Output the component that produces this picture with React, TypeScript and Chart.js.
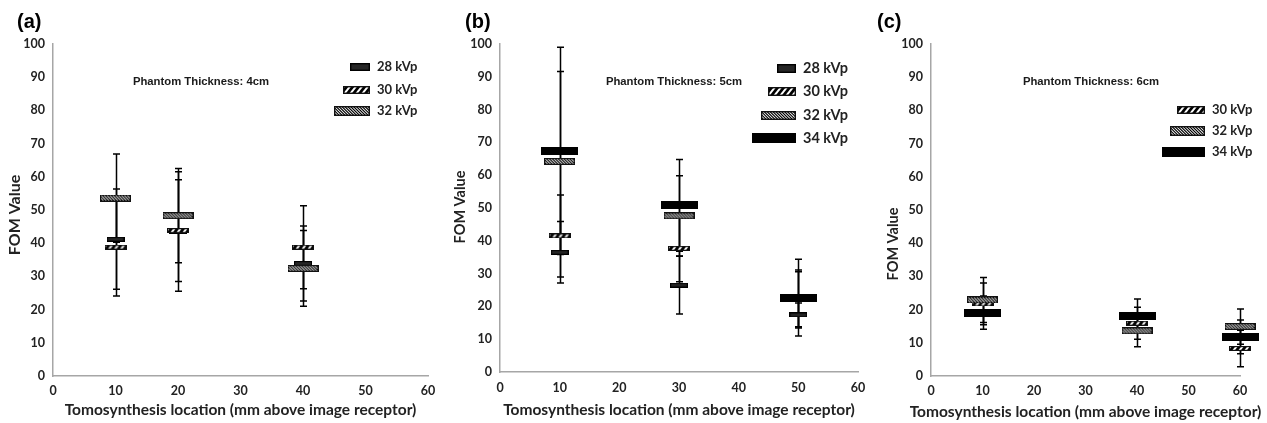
import React, { useEffect, useRef } from "react";
import { Chart, registerables } from "chart.js";

Chart.register(...registerables);

// ---------- DATA ----------
const xTicksMax = 60;
const yTicksMax = 100;

// Panel (a): Phantom 4 cm
const xA = [10, 20, 40];
const a28 = [41.2, 43.5, 33.9];
const a28Err = [15.1, 18, 11.3];
const a30 = [38.8, 43.8, 38.8];
const a30Err = [14.7, 15.3, 12.5];
const a32 = [53.6, 48.3, 32.4];
const a32Err = [13.3, 14.2, 11.4];

// Panel (b): Phantom 5 cm
const xB = [10, 30, 50];
const b28 = [36.5, 26.5, 17.4];
const b28Err = [9.4, 8.8, 3.6];
const b30 = [41.5, 37.7, 22];
const b30Err = [12.5, 10.2, 8.6];
const b32 = [64.2, 47.6, 22.4];
const b32Err = [27.4, 12.2, 8.7];
const b34 = [67.4, 50.8, 22.7];
const b34Err = [31.6, 14, 11.7];

// Panel (c): Phantom 6 cm
const xC = [10, 40, 60];
const c30 = [21.7, 15.9, 8.3];
const c30Err = [6.3, 4.8, 5.5];
const c32 = [22.9, 13.6, 14.9];
const c32Err = [6.8, 4.8, 5.3];
const c34 = [19.1, 18.2, 11.8];
const c34Err = [5, 5, 5.1];

const panelLabels = ["(a)", "(b)", "(c)"];
const thicknessLabels = ["Phantom Thickness: 4cm", "Phantom Thickness: 5cm", "Phantom Thickness: 6cm"];
const xTitle = "Tomosynthesis location (mm above image receptor)";
const yTitle = "FOM Value";

// ---------- STYLE HELPERS ----------
type Kind = "28" | "30" | "32" | "34";

const markerSize: Record<Kind, [number, number]> = {
  "28": [18, 5],
  "30": [22, 5],
  "32": [31, 7],
  "34": [37, 8],
};

function paint(kind: Kind, w: number, h: number, border: number): HTMLCanvasElement {
  const c = document.createElement("canvas");
  c.width = w;
  c.height = h;
  const g = c.getContext("2d")!;
  if (kind === "28") {
    g.fillStyle = "#262626";
    g.fillRect(0, 0, w, h);
    g.strokeStyle = "#000";
    g.lineWidth = border * 2;
    g.strokeRect(0, 0, w, h);
    return c;
  }
  if (kind === "34") {
    g.fillStyle = "#000";
    g.fillRect(0, 0, w, h);
    return c;
  }
  g.fillStyle = "#fff";
  g.fillRect(0, 0, w, h);
  g.save();
  g.beginPath();
  g.rect(0, 0, w, h);
  g.clip();
  g.strokeStyle = "#000";
  if (kind === "30") {
    g.lineWidth = 2.8;
    const s = 6;
    for (let x = -h; x < w + h; x += s) {
      g.beginPath();
      g.moveTo(x, h);
      g.lineTo(x + h * 0.8, 0);
      g.stroke();
    }
  } else {
    g.lineWidth = 1.1;
    const s = 2.9;
    g.beginPath();
    for (let x = -h; x < w + h; x += s) {
      g.moveTo(x, 0);
      g.lineTo(x + h, h);
    }
    g.stroke();
  }
  g.restore();
  g.strokeStyle = "#111";
  g.lineWidth = border * 2;
  g.strokeRect(0, 0, w, h);
  return c;
}

// ---------- PLUGINS ----------
const errorBars = {
  id: "errorBars",
  beforeDatasetsDraw(chart: any) {
    const ctx = chart.ctx;
    const xs = chart.scales.x;
    const ys = chart.scales.y;
    ctx.save();
    ctx.strokeStyle = "#000";
    ctx.lineWidth = 1.5;
    chart.data.datasets.forEach((ds: any) => {
      ds.data.forEach((p: any, i: number) => {
        const e = ds.errs[i];
        const px = Math.round(xs.getPixelForValue(p.x)) + 0.5;
        const top = ys.getPixelForValue(p.y + e);
        const bot = ys.getPixelForValue(p.y - e);
        ctx.beginPath();
        ctx.moveTo(px, top);
        ctx.lineTo(px, bot);
        ctx.moveTo(px - 3.5, top);
        ctx.lineTo(px + 3.5, top);
        ctx.moveTo(px - 3.5, bot);
        ctx.lineTo(px + 3.5, bot);
        ctx.stroke();
      });
    });
    ctx.restore();
  },
};

const annotations = {
  id: "annotations",
  afterDraw(chart: any) {
    const o = chart.options.plugins.annotations;
    const ctx = chart.ctx;
    const area = chart.chartArea;
    ctx.save();
    ctx.fillStyle = "#000";
    // panel label
    ctx.font = "bold 20px 'Liberation Sans', Arial, sans-serif";
    ctx.textAlign = "left";
    ctx.textBaseline = "middle";
    ctx.fillText(o.panel, o.panelX, 22);
    // thickness text
    ctx.font = "bold 11.3px 'Liberation Sans', Arial, sans-serif";
    ctx.textAlign = "center";
    ctx.fillStyle = "#1a1a1a";
    ctx.fillText(o.thickness, o.thicknessX, 82);
    // x title
    ctx.font = "bold 15.5px Lato, sans-serif";
    ctx.fillStyle = "#222";
    ctx.textAlign = "center";
    ctx.textBaseline = "middle";
    ctx.fillText(xTitle, (area.left + area.right) / 2, o.xTitleY);
    // y title
    ctx.save();
    ctx.translate(o.yTitleX, o.yTitleY);
    ctx.rotate(-Math.PI / 2);
    ctx.font = `bold ${o.yTitleFont}px Lato, sans-serif`;
    ctx.fillStyle = "#222";
    ctx.textAlign = "center";
    ctx.textBaseline = "middle";
    ctx.fillText(yTitle, 0, 0);
    ctx.restore();
    // legend
    const lg = o.legend;
    chart.data.datasets.forEach((ds: any, i: number) => {
      const [w, h] = lg.sizes[i];
      const img = paint(ds.kind, w, h, 1.4);
      const y = lg.ys[i];
      ctx.drawImage(img, lg.right - w, Math.round(y - h / 2));
      ctx.font = `bold ${lg.font}px Lato, sans-serif`;
      ctx.fillStyle = "#222";
      ctx.textAlign = "left";
      ctx.textBaseline = "middle";
      ctx.fillText(ds.label, lg.right + 7, y);
    });
    ctx.restore();
  },
};

// ---------- PANELS ----------
interface SeriesDef {
  kind: Kind;
  ys: number[];
  errs: number[];
}

interface PanelDef {
  left: number;
  width: number;
  xs: number[];
  series: SeriesDef[];
  yAxisW: number;
  xAxisH: number;
  padRight: number;
  xTickPad: number;
  xTitleY: number;
  panel: string;
  panelX: number;
  thickness: string;
  thicknessX: number;
  yTitleX: number;
  yTitleY: number;
  yTitleFont: number;
  legend: { right: number; ys: number[]; font: number; sizes: [number, number][] };
}

const panels: PanelDef[] = [
  {
    left: 0,
    width: 445,
    xs: xA,
    series: [
      { kind: "28", ys: a28, errs: a28Err },
      { kind: "30", ys: a30, errs: a30Err },
      { kind: "32", ys: a32, errs: a32Err },
    ],
    yAxisW: 53,
    xAxisH: 47,
    padRight: 17,
    xTickPad: 7,
    xTitleY: 410,
    panel: panelLabels[0],
    panelX: 17,
    thickness: thicknessLabels[0],
    thicknessX: 201,
    yTitleX: 15,
    yTitleY: 215,
    yTitleFont: 16,
    legend: { right: 370, ys: [67, 90, 111], font: 13, sizes: [[20, 8], [27, 8], [36, 10]] },
  },
  {
    left: 445,
    width: 430,
    xs: xB,
    series: [
      { kind: "28", ys: b28, errs: b28Err },
      { kind: "30", ys: b30, errs: b30Err },
      { kind: "32", ys: b32, errs: b32Err },
      { kind: "34", ys: b34, errs: b34Err },
    ],
    yAxisW: 55,
    xAxisH: 51,
    padRight: 17,
    xTickPad: 8,
    xTitleY: 410,
    panel: panelLabels[1],
    panelX: 20,
    thickness: thicknessLabels[1],
    thicknessX: 229,
    yTitleX: 15,
    yTitleY: 207,
    yTitleFont: 14.5,
    legend: { right: 351, ys: [68, 91, 115, 138], font: 14.5, sizes: [[19, 9], [28, 9], [35, 9], [44, 10]] },
  },
  {
    left: 875,
    width: 392,
    xs: xC,
    series: [
      { kind: "30", ys: c30, errs: c30Err },
      { kind: "32", ys: c32, errs: c32Err },
      { kind: "34", ys: c34, errs: c34Err },
    ],
    yAxisW: 56,
    xAxisH: 47,
    padRight: 27,
    xTickPad: 7,
    xTitleY: 412,
    panel: panelLabels[2],
    panelX: 2,
    thickness: thicknessLabels[2],
    thicknessX: 216,
    yTitleX: 18,
    yTitleY: 244,
    yTitleFont: 14.5,
    legend: { right: 330, ys: [110, 131, 152], font: 13, sizes: [[28, 8], [35, 10], [43, 10]] },
  },
];

const orderOf: Record<Kind, number> = { "28": 4, "30": 3, "32": 2, "34": 1 };

function Panel({ def }: { def: PanelDef }) {
  const ref = useRef<HTMLCanvasElement | null>(null);
  useEffect(() => {
    if (!ref.current) return;
    const tickFont = { family: "Lato, sans-serif", weight: "bold" as const, size: 12.5 };
    const chart = new Chart(ref.current, {
      type: "scatter",
      data: {
        datasets: def.series.map((s) => {
          const [w, h] = markerSize[s.kind];
          return {
            label: `${s.kind} kVp`,
            kind: s.kind,
            errs: s.errs,
            order: orderOf[s.kind],
            data: def.xs.map((x, i) => ({ x, y: s.ys[i] })),
            pointStyle: paint(s.kind, w, h, 1.2),
            showLine: false,
            clip: false,
          } as any;
        }),
      },
      options: {
        responsive: false,
        animation: false,
        events: [],
        layout: {
          autoPadding: false,
          padding: { left: 0, top: 44, right: def.padRight, bottom: 0 },
        },
        plugins: {
          legend: { display: false },
          tooltip: { enabled: false },
          annotations: {
            panel: def.panel,
            panelX: def.panelX,
            thickness: def.thickness,
            thicknessX: def.thicknessX,
            xTitleY: def.xTitleY,
            yTitleX: def.yTitleX,
            yTitleY: def.yTitleY,
            yTitleFont: def.yTitleFont,
            legend: def.legend,
          },
        } as any,
        scales: {
          x: {
            type: "linear",
            min: 0,
            max: xTicksMax,
            ticks: { stepSize: 10, padding: def.xTickPad, font: tickFont, color: "#222", maxRotation: 0 },
            grid: { display: false, drawTicks: false },
            border: { display: true, color: "#a6a6a6", width: 1.5 },
            afterFit: (s: any) => {
              s.height = def.xAxisH;
            },
          },
          y: {
            type: "linear",
            min: 0,
            max: yTicksMax,
            ticks: { stepSize: 10, padding: 8, font: tickFont, color: "#222" },
            grid: { display: false, drawTicks: false },
            border: { display: true, color: "#a6a6a6", width: 1.5 },
            afterFit: (s: any) => {
              s.width = def.yAxisW;
            },
          },
        },
      },
      plugins: [errorBars, annotations],
    } as any);
    return () => chart.destroy();
  }, [def]);
  return (
    <canvas
      ref={ref}
      width={def.width}
      height={423}
      style={{ position: "absolute", left: def.left, top: 0, width: def.width, height: 423 }}
    />
  );
}

export default function App() {
  return (
    <div style={{ position: "absolute", left: 0, top: 0, width: 1267, height: 423, background: "#fff", overflow: "hidden" }}>
      {panels.map((p, i) => (
        <Panel key={i} def={p} />
      ))}
    </div>
  );
}
